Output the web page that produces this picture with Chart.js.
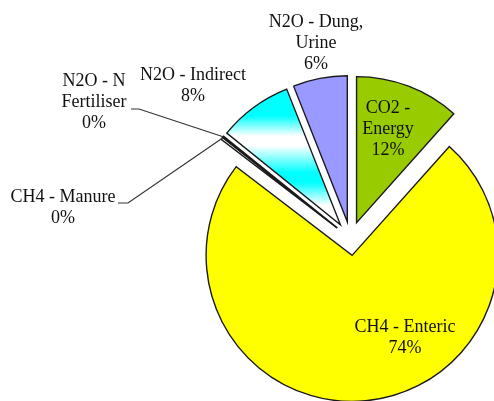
<!DOCTYPE html>
<html>
<head>
<meta charset="utf-8">
<script src="https://cdn.jsdelivr.net/npm/chart.js@4.4.1/dist/chart.umd.min.js"></script>
<style>
  html, body { margin: 0; padding: 0; background: #fff; }
  #wrap { width: 494px; height: 401px; position: relative; }
  #warm { position: absolute; left: -999px; font-family: "Liberation Serif"; font-size: 18px; }
</style>
</head>
<body>
<div id="wrap"><canvas id="emissions-chart" width="494" height="401"></canvas></div>
<span id="warm">N2O - Fertiliser 0%</span>
<script>
// Emission sources, clockwise from 12 o'clock
const categories = ['CO2 - Energy', 'CH4 - Enteric', 'CH4 - Manure', 'N2O - N Fertiliser', 'N2O - Indirect', 'N2O - Dung, Urine'];
const shares = [11.6, 73.8, 0.25, 0.15, 8.2, 6.0];
// how the category names wrap on the chart
const labelLines = [['CO2 -', 'Energy'], ['CH4 - Enteric'], ['CH4 - Manure'], ['N2O - N', 'Fertiliser'], ['N2O - Indirect'], ['N2O - Dung,', 'Urine']];

const sliceColors = ['#99CC00', '#FFFF00', '#FFFFFF', '#FFFFFF', '#00FFFF', '#9999FF'];
const EXPLODE = 17;
const FONT = '18px "Liberation Serif"';
const LINE_H = 21;

// label placement: centre x, y of first line; leader = elbow points toward the slice
const labelLayout = {
    0: { x: 388, y: 108 },
    1: { x: 405, y: 327 },
    2: { x: 63, y: 197, leader: [[118, 203], [128, 203]] },
    3: { x: 94, y: 81, leader: [[131, 109], [139, 109]] },
    4: { x: 193, y: 75 },
    5: { x: 316, y: 22 }
};

function indirectFill(context) {
    const chart = context.chart;
    const area = chart.chartArea;
    if (!area) return sliceColors[4];
    const cy = (area.top + area.bottom) / 2;
    const g = chart.ctx.createLinearGradient(0, cy - 150, 0, cy - 14);
    g.addColorStop(0, '#00FFFF');
    g.addColorStop(0.2, '#00FFFF');
    g.addColorStop(0.35, '#FFFFFF');
    g.addColorStop(0.42, '#FFFFFF');
    g.addColorStop(0.62, '#00FFFF');
    g.addColorStop(0.69, '#00FFFF');
    g.addColorStop(0.86, '#FFFFFF');
    g.addColorStop(1, '#FFFFFF');
    return g;
}

// pull every slice out along its middle angle
const explodePlugin = {
    id: 'explode',
    afterUpdate(chart) {
        chart.getDatasetMeta(0).data.forEach(arc => {
            const mid = (arc.startAngle + arc.endAngle) / 2;
            arc.x += Math.cos(mid) * EXPLODE;
            arc.y += Math.sin(mid) * EXPLODE;
        });
    }
};

const sliceLabelPlugin = {
    id: 'sliceLabels',
    afterDatasetsDraw(chart) {
        const ctx = chart.ctx;
        const arcs = chart.getDatasetMeta(0).data;
        const total = shares.reduce((a, b) => a + b, 0);
        ctx.save();

        // leader lines for the tiny slices
        ctx.strokeStyle = '#333';
        ctx.lineWidth = 1.2;
        Object.entries(labelLayout).forEach(([i, pos]) => {
            if (!pos.leader) return;
            const arc = arcs[i];
            const a = (arc.startAngle + arc.endAngle) / 2;
            const ax = arc.x + Math.cos(a) * arc.outerRadius;
            const ay = arc.y + Math.sin(a) * arc.outerRadius;
            ctx.beginPath();
            ctx.moveTo(pos.leader[0][0], pos.leader[0][1]);
            ctx.lineTo(pos.leader[1][0], pos.leader[1][1]);
            ctx.lineTo(ax, ay);
            ctx.stroke();
        });

        ctx.font = FONT;
        ctx.fillStyle = '#111';
        ctx.textAlign = 'center';
        ctx.textBaseline = 'middle';
        categories.forEach((cat, i) => {
            const pos = labelLayout[i];
            const lines = labelLines[i].concat([Math.round(shares[i] / total * 100) + '%']);
            lines.forEach((t, k) => ctx.fillText(t, pos.x, pos.y + k * LINE_H));
        });
        ctx.restore();
    }
};

const chart = new Chart(document.getElementById('emissions-chart'), {
    type: 'pie',
    data: {
        labels: categories,
        datasets: [{
            data: shares,
            backgroundColor: c => c.dataIndex === 4 ? indirectFill(c) : sliceColors[c.dataIndex],
            borderColor: '#1a1a1a',
            borderWidth: 1.4,
            borderJoinStyle: 'miter'
        }]
    },
    options: {
        responsive: false,
        animation: false,
        events: [],
        radius: 146,
        layout: { padding: { left: 207, right: 0, top: 76, bottom: 0 } },
        plugins: { legend: { display: false }, tooltip: { enabled: false } }
    },
    plugins: [explodePlugin, sliceLabelPlugin]
});

// redraw once the serif face is ready
document.fonts.load(FONT).then(() => chart.update());
</script>
</body>
</html>
